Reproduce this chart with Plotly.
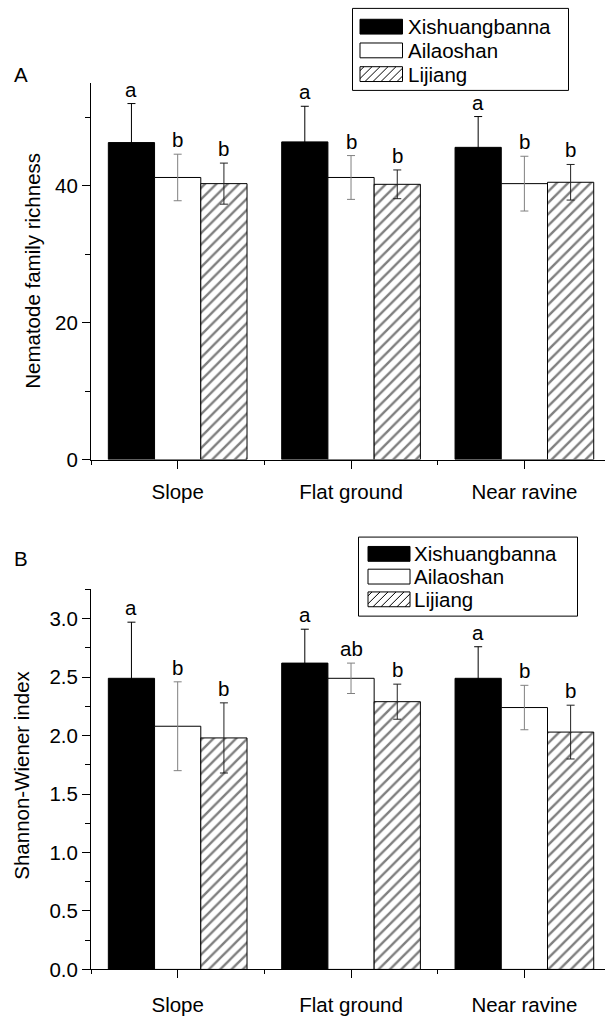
import plotly.graph_objects as go

categories = ["Slope", "Flat ground", "Near ravine"]
sites = ["Xishuangbanna", "Ailaoshan", "Lijiang"]

# Panel A: nematode family richness (mean, SD)
rich_mean = {
    "Xishuangbanna": [46.3, 46.4, 45.6],
    "Ailaoshan": [41.2, 41.2, 40.3],
    "Lijiang": [40.3, 40.2, 40.5],
}
rich_sd = {
    "Xishuangbanna": [5.7, 5.2, 4.5],
    "Ailaoshan": [3.4, 3.2, 4.0],
    "Lijiang": [3.0, 2.1, 2.6],
}
rich_letters = {
    "Xishuangbanna": ["a", "a", "a"],
    "Ailaoshan": ["b", "b", "b"],
    "Lijiang": ["b", "b", "b"],
}

# Panel B: Shannon-Wiener index (mean, SD)
shan_mean = {
    "Xishuangbanna": [2.49, 2.62, 2.49],
    "Ailaoshan": [2.08, 2.49, 2.24],
    "Lijiang": [1.98, 2.29, 2.03],
}
shan_sd = {
    "Xishuangbanna": [0.48, 0.29, 0.27],
    "Ailaoshan": [0.38, 0.13, 0.19],
    "Lijiang": [0.30, 0.15, 0.23],
}
shan_letters = {
    "Xishuangbanna": ["a", "a", "a"],
    "Ailaoshan": ["b", "ab", "b"],
    "Lijiang": ["b", "b", "b"],
}

W, H = 605, 1016
FONT = "Liberation Sans, Arial, sans-serif"
FS = 20.5
BARGAP = 0.2

styles = {
    "Xishuangbanna": dict(color="black", err="black", pattern=None),
    "Ailaoshan": dict(color="white", err="#808080", pattern=None),
    "Lijiang": dict(color="white", err="#222222",
                    pattern=dict(shape="/", fgcolor="black", bgcolor="white",
                                 size=8, solidity=0.3)),
}

xpos = list(range(len(categories)))

fig = go.Figure()
annotations = []
bw = (1 - BARGAP) / 3

for panel, (means, sds, letters, xa, ya) in enumerate([
        (rich_mean, rich_sd, rich_letters, "x", "y"),
        (shan_mean, shan_sd, shan_letters, "x2", "y2")]):
    for j, s in enumerate(sites):
        st = styles[s]
        marker = dict(color=st["color"], line=dict(color="black", width=1))
        if st["pattern"]:
            marker["pattern"] = st["pattern"]
        fig.add_trace(go.Bar(
            x=xpos, y=means[s], name=s, marker=marker,
            error_y=dict(type="data", array=sds[s], visible=True,
                         color=st["err"], thickness=1, width=4),
            xaxis=xa, yaxis=ya, showlegend=False, offsetgroup=str(j),
        ))
        for i in range(len(categories)):
            annotations.append(dict(
                x=i + (j - 1) * bw, y=means[s][i] + sds[s][i],
                xref=xa, yref=ya, text=letters[s][i], showarrow=False,
                yanchor="bottom", xanchor="center", yshift=1,
                font=dict(family=FONT, size=FS, color="black")))

def px(x):
    return x / W

def py(y):
    return 1 - y / H

# axis domains (pixel-derived)
xdom = [px(91), 1.0]
ydomA = [py(465), py(84)]
ydomB = [py(981), py(596.5)]
xrange_ = [-0.5, 2.465]

common_x = dict(
    range=xrange_, showline=True, linecolor="black", linewidth=1,
    tickmode="array", tickvals=xpos, ticktext=categories,
    ticks="outside", ticklen=8, tickwidth=1, tickcolor="black",
    minor=dict(tickmode="array", tickvals=[-0.5, 0.5, 1.5],
               ticks="outside", ticklen=4, tickwidth=1, tickcolor="black"),
    showgrid=False, zeroline=False,
    tickfont=dict(family=FONT, size=FS, color="black"),
)
common_y = dict(
    showline=True, linecolor="black", linewidth=1,
    ticks="outside", ticklen=8, tickwidth=1, tickcolor="black",
    showgrid=False, zeroline=False,
    tickfont=dict(family=FONT, size=FS, color="black"),
)

fig.update_layout(
    width=W, height=H,
    margin=dict(l=0, r=0, t=0, b=0),
    paper_bgcolor="white", plot_bgcolor="white",
    barmode="group", bargap=BARGAP, bargroupgap=0,
    font=dict(family=FONT, size=FS, color="black"),
    xaxis=dict(domain=xdom, anchor="y", ticklabelstandoff=6, **common_x),
    yaxis=dict(domain=ydomA, anchor="x", range=[0, 55], tickmode="array",
               tickvals=[0, 20, 40],
               minor=dict(tickmode="array", tickvals=[10, 30, 50], ticks="outside",
                          ticklen=5, tickwidth=1, tickcolor="black"),
               **common_y),
    xaxis2=dict(domain=xdom, anchor="y2", ticklabelstandoff=9, **common_x),
    yaxis2=dict(domain=ydomB, anchor="x2", range=[0, 3.25], tickmode="array",
                tickvals=[0, 0.5, 1.0, 1.5, 2.0, 2.5, 3.0],
                ticktext=["0.0", "0.5", "1.0", "1.5", "2.0", "2.5", "3.0"],
                minor=dict(tickmode="array", tickvals=[0.25, 0.75, 1.25, 1.75, 2.25, 2.75, 3.25],
                           ticks="outside", ticklen=5, tickwidth=1, tickcolor="black"),
                **common_y),
)

# axis titles and panel labels
annotations += [
    dict(text="Nematode family richness", x=px(33), y=py(274), xref="paper", yref="paper",
         textangle=-90, showarrow=False, xanchor="center", yanchor="middle",
         font=dict(family=FONT, size=FS, color="black")),
    dict(text="Shannon-Wiener index", x=px(22), y=py(785), xref="paper", yref="paper",
         textangle=-90, showarrow=False, xanchor="center", yanchor="middle",
         font=dict(family=FONT, size=FS, color="black")),
    dict(text="A", x=px(12), y=py(75), xref="paper", yref="paper", showarrow=False,
         xanchor="left", yanchor="middle", font=dict(family=FONT, size=FS, color="black")),
    dict(text="B", x=px(12), y=py(565), xref="paper", yref="paper", showarrow=False,
         xanchor="left", yanchor="middle", font=dict(family=FONT, size=FS, color="black")),
]

# manual legends
shapes = []

def rect(x0, y0, x1, y1, fill="white"):
    shapes.append(dict(type="rect", xref="paper", yref="paper",
                       x0=px(x0), x1=px(x1), y0=py(y1), y1=py(y0),
                       line=dict(color="black", width=1), fillcolor=fill))

def hatch(x0, y0, x1, y1, step=8):
    c = x0 + y0 + step / 2
    while c < x1 + y1:
        ylo = max(y0, c - x1)
        yhi = min(y1, c - x0)
        if yhi > ylo:
            shapes.append(dict(type="line", xref="paper", yref="paper",
                               x0=px(c - ylo), y0=py(ylo), x1=px(c - yhi), y1=py(yhi),
                               line=dict(color="black", width=1)))
        c += step

def legend(box, sw_x0, sw_x1, centers, text_x):
    rect(*box)
    for s, yc in zip(sites, centers):
        y0, y1 = yc - 7.5, yc + 7.5
        st = styles[s]
        rect(sw_x0, y0, sw_x1, y1, fill=st["color"])
        if st["pattern"]:
            hatch(sw_x0, y0, sw_x1, y1)
        annotations.append(dict(text=s, x=px(text_x), y=py(yc), xref="paper", yref="paper",
                                showarrow=False, xanchor="left", yanchor="middle",
                                font=dict(family=FONT, size=FS, color="black")))

legend((352.5, 8.5, 568.5, 91.5), 360, 402.5, [27, 51, 75], 406)
legend((358.5, 543.5, 577.5, 623.5), 368, 410, [560.5, 583.5, 606.5], 412)

fig.update_layout(annotations=annotations, shapes=shapes)
fig.write_html("out.html")
